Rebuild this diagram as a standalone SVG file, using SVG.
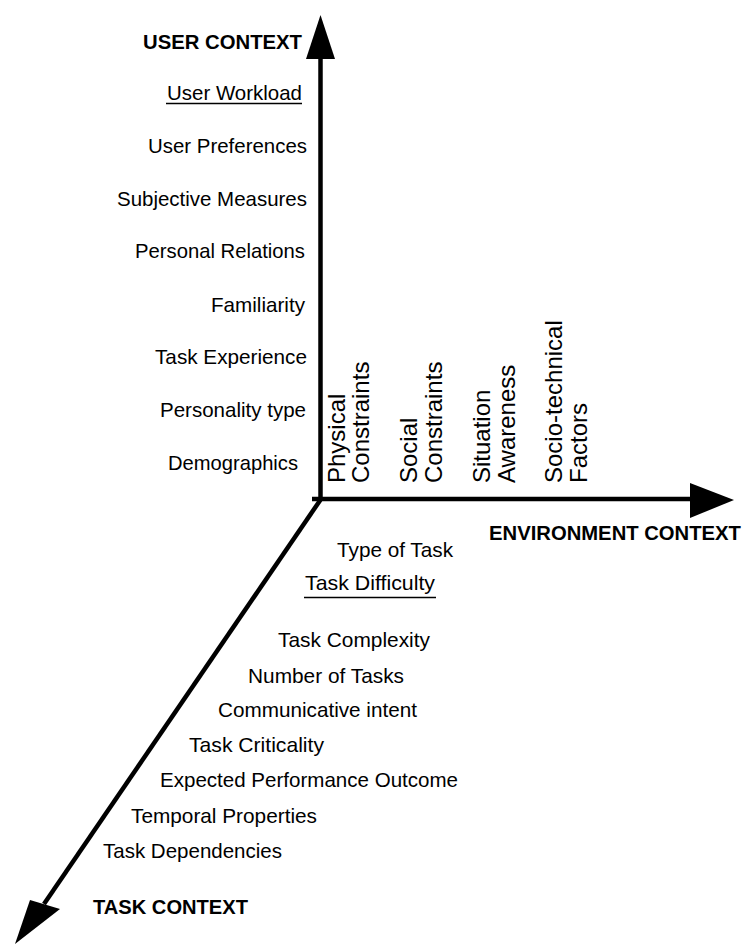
<svg xmlns="http://www.w3.org/2000/svg" width="744" height="945" viewBox="0 0 744 945">
<style>
.t{font-family:"Liberation Sans",Arial,sans-serif;font-size:21px;fill:#000}
.b{font-family:"Liberation Sans",Arial,sans-serif;font-size:19.5px;font-weight:bold;fill:#000}
.v{font-family:"Liberation Sans",Arial,sans-serif;font-size:24px;fill:#000}
.ax{stroke:#000;stroke-width:4.5;fill:none}
.ah{fill:#000;stroke:none}
.ul{stroke:#000;stroke-width:1.6}
</style>
<rect width="744" height="945" fill="#fff"/>
<g id="connectors">
  <line class="ax" x1="320.5" y1="500" x2="320.5" y2="55"/>
  <polygon class="ah" points="320.5,15 306,59 335,59"/>
  <line class="ax" x1="312" y1="499" x2="695" y2="499"/>
  <polygon class="ah" points="734,500 690,483 690,518"/>
  <line class="ax" x1="321" y1="499" x2="44" y2="904"/>
  <polygon class="ah" points="15,944 30,900 60,909"/>
</g>
<g id="user-context"><text class="b" x="143" y="49" textLength="159" lengthAdjust="spacingAndGlyphs">USER CONTEXT</text></g>
<g id="user-workload"><text class="t" x="167" y="100" textLength="135" lengthAdjust="spacingAndGlyphs">User Workload</text><line class="ul" x1="166" y1="103.5" x2="302" y2="103.5"/></g>
<g id="user-preferences"><text class="t" x="148" y="153" textLength="159" lengthAdjust="spacingAndGlyphs">User Preferences</text></g>
<g id="subjective-measures"><text class="t" x="117" y="206" textLength="190" lengthAdjust="spacingAndGlyphs">Subjective Measures</text></g>
<g id="personal-relations"><text class="t" x="135" y="258" textLength="170" lengthAdjust="spacingAndGlyphs">Personal Relations</text></g>
<g id="familiarity"><text class="t" x="211" y="312" textLength="94" lengthAdjust="spacingAndGlyphs">Familiarity</text></g>
<g id="task-experience"><text class="t" x="155" y="364" textLength="152" lengthAdjust="spacingAndGlyphs">Task Experience</text></g>
<g id="personality-type"><text class="t" x="160" y="417" textLength="146" lengthAdjust="spacingAndGlyphs">Personality type</text></g>
<g id="demographics"><text class="t" x="168" y="470" textLength="130" lengthAdjust="spacingAndGlyphs">Demographics</text></g>

<g id="physical-constraints">
  <text class="v" transform="translate(345,483) rotate(-90)">Physical</text>
  <text class="v" transform="translate(369,483) rotate(-90)">Constraints</text>
</g>
<g id="social-constraints">
  <text class="v" transform="translate(417,483) rotate(-90)">Social</text>
  <text class="v" transform="translate(442,483) rotate(-90)">Constraints</text>
</g>
<g id="situation-awareness">
  <text class="v" transform="translate(490,483) rotate(-90)">Situation</text>
  <text class="v" transform="translate(515,483) rotate(-90)">Awareness</text>
</g>
<g id="socio-technical-factors">
  <text class="v" transform="translate(562,483) rotate(-90)">Socio-technical</text>
  <text class="v" transform="translate(587,483) rotate(-90)">Factors</text>
</g>
<g id="environment-context"><text class="b" x="489" y="540" textLength="252" lengthAdjust="spacingAndGlyphs">ENVIRONMENT CONTEXT</text></g>

<g id="type-of-task"><text class="t" x="337" y="557" textLength="116" lengthAdjust="spacingAndGlyphs">Type of Task</text></g>
<g id="task-difficulty"><text class="t" x="305" y="590" textLength="130" lengthAdjust="spacingAndGlyphs">Task Difficulty</text><line class="ul" x1="304" y1="597.5" x2="436" y2="597.5"/></g>
<g id="task-complexity"><text class="t" x="278" y="647" textLength="152" lengthAdjust="spacingAndGlyphs">Task Complexity</text></g>
<g id="number-of-tasks"><text class="t" x="248" y="683" textLength="156" lengthAdjust="spacingAndGlyphs">Number of Tasks</text></g>
<g id="communicative-intent"><text class="t" x="218" y="717" textLength="199" lengthAdjust="spacingAndGlyphs">Communicative intent</text></g>
<g id="task-criticality"><text class="t" x="189" y="752" textLength="135" lengthAdjust="spacingAndGlyphs">Task Criticality</text></g>
<g id="expected-performance-outcome"><text class="t" x="160" y="787" textLength="298" lengthAdjust="spacingAndGlyphs">Expected Performance Outcome</text></g>
<g id="temporal-properties"><text class="t" x="131" y="823" textLength="186" lengthAdjust="spacingAndGlyphs">Temporal Properties</text></g>
<g id="task-dependencies"><text class="t" x="103" y="858" textLength="179" lengthAdjust="spacingAndGlyphs">Task Dependencies</text></g>
<g id="task-context"><text class="b" x="93" y="914" textLength="155" lengthAdjust="spacingAndGlyphs">TASK CONTEXT</text></g>
</svg>
